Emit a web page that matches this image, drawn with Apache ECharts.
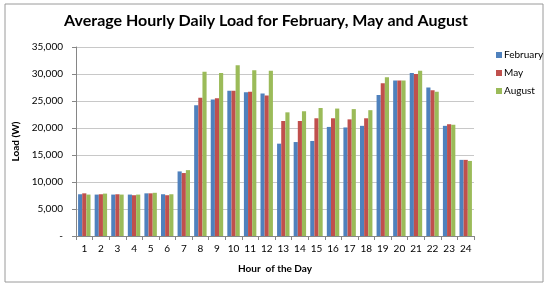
<!DOCTYPE html>
<html><head><meta charset="utf-8">
<script src="https://cdn.jsdelivr.net/npm/echarts@6/dist/echarts.min.js"></script>
<style>html,body{margin:0;padding:0;background:#fff}#c{width:550px;height:287px}</style>
</head><body><div id="c"></div>
<script>
const hours = ['1','2','3','4','5','6','7','8','9','10','11','12','13','14','15','16','17','18','19','20','21','22','23','24'];
const february = [7730,7670,7670,7670,7900,7730,11960,24200,25300,26900,26600,26400,17100,17400,17600,20200,20100,20400,26100,28800,30200,27500,20400,14100];
const may = [7900,7730,7730,7550,7900,7550,11660,25600,25500,26900,26700,26000,21300,21300,21800,21800,21600,21800,28300,28800,30000,27000,20700,14100];
const august = [7670,7850,7670,7670,8000,7730,12200,30400,30200,31600,30700,30600,22900,23100,23700,23600,23500,23300,29400,28800,30600,26700,20600,13900];
const yTicks = [0,5000,10000,15000,20000,25000,30000,35000];

const chart = echarts.init(document.getElementById('c'));
const font = 'Lato, "Open Sans", sans-serif';
const fmt = v => v === 0 ? '-' : v.toLocaleString('en-US');
chart.setOption({
  animation: false,
  graphic: [{type:'rect', shape:{x:5,y:4,width:538,height:278}, style:{fill:'none', stroke:'#9a9a9a', lineWidth:1}}],
  title: {text:'Average Hourly Daily Load for February, May and August', left:261, textAlign:'center', top:8,
    textStyle:{fontFamily:font, fontWeight:'bold', fontSize:16, color:'#000'}},
  legend: {orient:'vertical', left:491, top:45, itemWidth:6, itemHeight:6, itemGap:8, icon:'rect',
    textStyle:{fontFamily:font, fontSize:10, color:'#000', padding:[0,0,0,-3]}},
  grid: {left:76, right:76, top:47, bottom:51},
  xAxis: {type:'category', data:hours, name:'Hour  of the Day', nameLocation:'middle', nameGap:28,
    nameTextStyle:{fontFamily:font, fontWeight:'bold', fontSize:10, color:'#000'},
    axisLine:{lineStyle:{color:'#868686'}}, axisTick:{show:true, length:4, interval:0, lineStyle:{color:'#868686'}},
    axisLabel:{fontFamily:font, fontSize:10, color:'#000', margin:8, interval:0}},
  yAxis: {type:'value', min:0, max:35000, interval:5000, name:'Load (W)', nameLocation:'middle', nameGap:50,
    nameTextStyle:{fontFamily:font, fontWeight:'bold', fontSize:10, color:'#000'},
    axisLine:{show:true, lineStyle:{color:'#868686'}}, axisTick:{show:true, length:4, lineStyle:{color:'#868686'}},
    splitLine:{lineStyle:{color:'#c8c8c8'}},
    axisLabel:{fontFamily:font, fontSize:10, color:'#000', margin:13, formatter: fmt}},
  series: [
    {name:'February', type:'bar', data:february, itemStyle:{color:'#4F81BD'}, barGap:'0%', barCategoryGap:'25%'},
    {name:'May', type:'bar', data:may, itemStyle:{color:'#C0504D'}},
    {name:'August', type:'bar', data:august, itemStyle:{color:'#9BBB59'}}
  ]
});
</script></body></html>
